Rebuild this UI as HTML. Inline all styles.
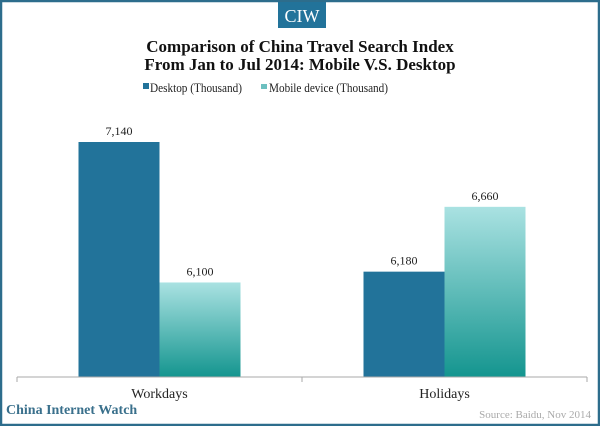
<!DOCTYPE html>
<html><head><meta charset="utf-8"><style>
body{margin:0;width:600px;height:426px;overflow:hidden;background:#fff;font-family:"Liberation Serif",serif}
</style></head><body>
<svg width="600" height="426">
<defs><linearGradient id="mg" x1="0" y1="0" x2="0" y2="1"><stop offset="0" stop-color="#aae2e2"/><stop offset="1" stop-color="#14958f"/></linearGradient></defs>
<rect x="1" y="1" width="598" height="424" fill="none" stroke="#2d6d8c" stroke-width="2.5"/>
<rect x="278" y="2" width="48" height="26" fill="#22739a"/>
<text x="302" y="22" text-anchor="middle" fill="#fff" font-size="18">CIW</text>
<text x="300" y="52" text-anchor="middle" font-size="17" font-weight="bold" fill="#111">Comparison of China Travel Search Index</text>
<text x="300" y="70" text-anchor="middle" font-size="17" font-weight="bold" fill="#111">From Jan to Jul 2014: Mobile V.S. Desktop</text>
<g>
<rect x="143" y="83" width="6" height="6" fill="#22739a"/>
<text x="150" y="92" font-size="13" fill="#222" textLength="92" lengthAdjust="spacingAndGlyphs">Desktop (Thousand)</text>
<rect x="261" y="84" width="6" height="5" fill="#6cc0c0"/>
<text x="269" y="92" font-size="13" fill="#222" textLength="119" lengthAdjust="spacingAndGlyphs">Mobile device (Thousand)</text>
</g>
<g id="plot"></g>
<line x1="17" y1="377" x2="587" y2="377" stroke="#aaa"/>
<line x1="17" y1="377" x2="17" y2="382" stroke="#aaa"/><line x1="302" y1="377" x2="302" y2="382" stroke="#aaa"/><line x1="587" y1="377" x2="587" y2="382" stroke="#aaa"/>
<text x="6" y="414" font-size="14" font-weight="bold" fill="#3a708c">China Internet Watch</text>
<text x="591" y="418" text-anchor="end" font-size="11" fill="#aaa">Source: Baidu, Nov 2014</text>
</svg>
<script>
const categories=["Workdays","Holidays"];
const desktop=[7140,6180];
const mobile=[6100,6660];
const yMin=5400,yMax=7140;
const base=377,topY=142,x0=17,x1=587;
const y=v=>base-(v-yMin)/(yMax-yMin)*(base-topY);
const band=(x1-x0)/categories.length;
const g=document.getElementById('plot');
const ns="http://www.w3.org/2000/svg";
function mk(t,a){const e=document.createElementNS(ns,t);for(const k in a)e.setAttribute(k,a[k]);g.appendChild(e);return e;}
categories.forEach((c,i)=>{
 const cx=x0+band*(i+0.5);
 [[desktop[i],"#22739a",-81,"desktop"],[mobile[i],"url(#mg)",0,"mobile"]].forEach(([v,f,off,n])=>{
  const r=mk('rect',{x:cx+off,y:y(v),width:81,height:base-y(v),fill:f});
  
  
  const t=mk('text',{x:cx+off+40.5,y:y(v)-7,'text-anchor':'middle','font-size':'12',fill:'#222'});
  t.textContent=v.toLocaleString('en-US');
  
  
 });
 const l=mk('text',{x:cx,y:398,'text-anchor':'middle','font-size':'14',fill:'#222'});
 l.textContent=c;
 
 
});
</script>
</body></html>
